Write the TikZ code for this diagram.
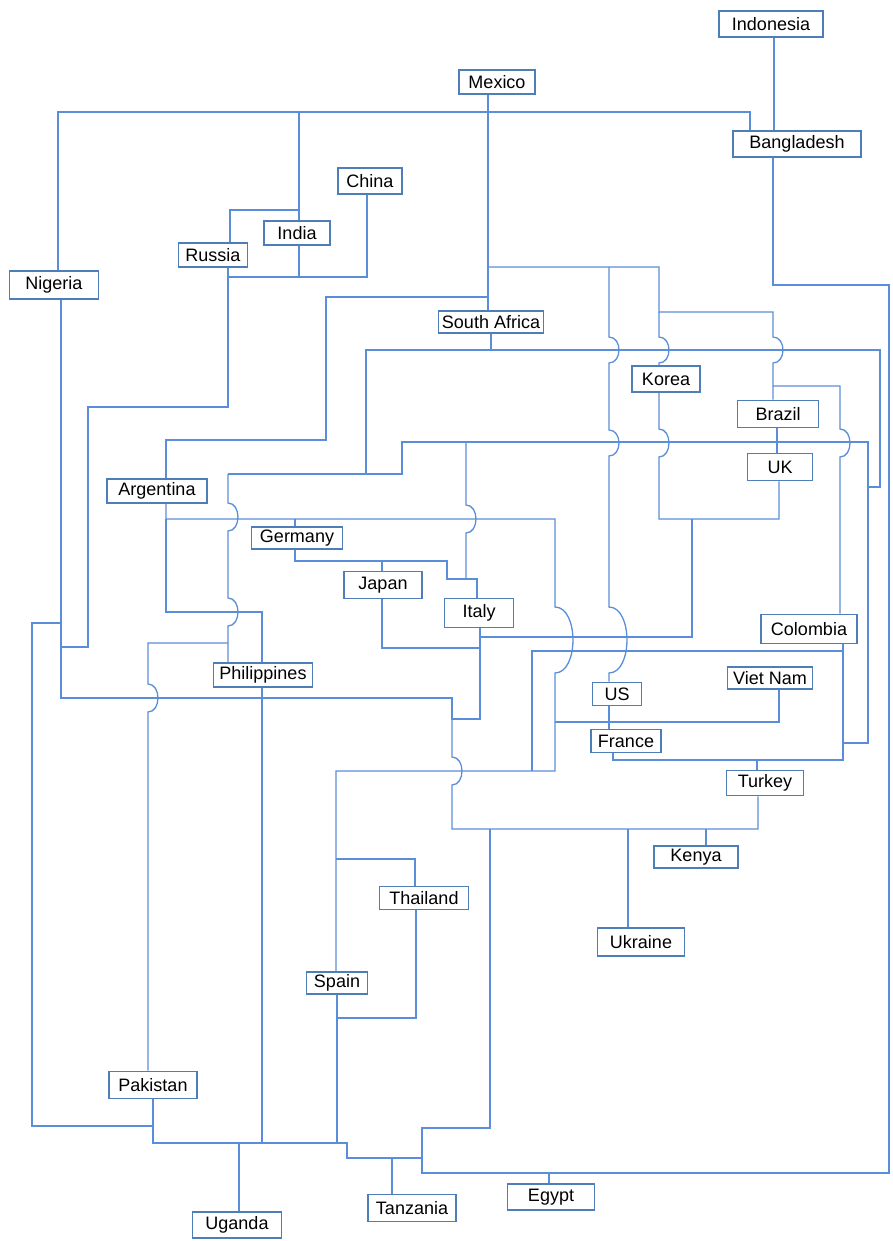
\documentclass[tikz,border=0pt]{standalone}
\usepackage{fontspec}
\setmainfont{Liberation Sans}
\definecolor{wireblue}{HTML}{5B8ED8}
\definecolor{boxblue}{HTML}{4F7DB8}
\tikzset{
  every picture/.style={line width=1.3pt},
  box/.style={draw=boxblue, fill=white, line width=1.6pt, inner sep=0pt, font=\fontsize{18}{20}\selectfont},
  wire/.style={draw=wireblue, line width=1.3pt},
}
% a vertical wire hopping over a horizontal one: x, y of crossing, bulge, half height
\newcommand{\hop}[4]{-- (#1,#2-#4) .. controls (#1+1.33*#3,#2-#4) and (#1+1.33*#3,#2+#4) .. (#1,#2+#4)}

\begin{document}
\begin{tikzpicture}[x=1pt, y=-1pt]
  \useasboundingbox (0,0) rectangle (892,1241);
  % countries
  \foreach \nm/\cx/\cy/\bw/\bh/\txt in {
      indonesia/771/24/104/26/Indonesia, mexico/497/82/76/24/Mexico,
      bangladesh/797/144/128/26/Bangladesh, china/370/181/64/26/China,
      india/297/233/66/24/India, russia/213/255/69/24/Russia,
      nigeria/54/285/89/28/Nigeria, southafrica/491/322/105/22/South Africa,
      korea/666/379/68/26/Korea, brazil/778/414/81/27/Brazil,
      uk/780/467/65/27/UK, argentina/157/491/100/24/Argentina,
      germany/297/538/91/22/Germany, japan/383/585/78/27/Japan,
      italy/479/613/69/29/Italy, philippines/263/675/99/24/Philippines,
      colombia/809/629/96/29/Colombia, us/617/694/49/23/US,
      vietnam/770/678/85/22/Viet Nam, france/626/741/70/23/France,
      turkey/765/783/77/25/Turkey, kenya/696/857/84/22/Kenya,
      thailand/424/898/89/23/Thailand, spain/337/983/61/22/Spain,
      ukraine/641/942/87/28/Ukraine, pakistan/153/1085/88/27/Pakistan,
      uganda/237/1225/89/26/Uganda, tanzania/412/1208/88/27/Tanzania,
      egypt/551/1197/87/26/Egypt}
    \node[box, minimum width=\bw, minimum height=\bh] (\nm) at (\cx,\cy) {\txt};
  % top of the chart
  \draw[wire] ([xshift=3]indonesia.south) -- ([xshift=-23]bangladesh.north);
  \draw[wire] ([xshift=4]nigeria.north) |- (750,112) -- ([xshift=-47]bangladesh.north);
  \draw[wire] (299,112) -- ([xshift=2]india.north);
  \draw[wire] ([xshift=17]russia.north) |- (299,210);
  \draw[wire] ([xshift=2]india.south) -- (299,277);
  \draw[wire] ([xshift=-3]china.south) |- (228,277);
  \draw[wire] ([xshift=15]russia.south) |- (88,407) |- (61,647);
  % Mexico trunk
  \draw[wire] ([xshift=-9]mexico.south) -- ([xshift=-3]southafrica.north);
  \draw[wire] (488,267) -- (659,267) -- (659,312) -- (773,312) \hop{773}{350}{10}{13} -- ([xshift=-5]brazil.north);
  \draw[wire] (659,312) \hop{659}{350}{10}{13} -- ([xshift=-7]korea.north);
  \draw[wire] (609,267) \hop{609}{350}{10}{13} \hop{609}{443}{10}{13} \hop{609}{640}{18}{33} -- ([xshift=-8]us.north);
  \draw[wire] ([xshift=-8]us.south) -- ([xshift=-17]france.north);
  \draw[wire] (773,386) -- (840,386) \hop{840}{443}{10}{14} -- ([xshift=31]colombia.north);
  \draw[wire] ([xshift=-1]brazil.south) -- ([xshift=-3]uk.north);
  \draw[wire] ([xshift=-7]korea.south) \hop{659}{443}{10}{14} -- (659,519) -| ([xshift=-1]uk.south);
  \draw[wire] (692,519) |- (480,637);
  % South Africa and Argentina
  \draw[wire] (488,297) -| (326,440) -| ([xshift=9]argentina.north);
  \draw[wire] (southafrica.south) -- (491,350);
  \draw[wire] (366,474) |- (880,350) |- (868,487);
  \draw[wire] (228,474) -| (402,442) -| (868,743) -- (843,743);
  \draw[wire] (228,474) \hop{228}{517}{10}{14} \hop{228}{612}{10}{14} -- ([xshift=-35]philippines.north);
  \draw[wire] (466,442) \hop{466}{519}{10}{14} -- (466,579);
  \draw[wire] ([xshift=9]argentina.south) |- (555,519) \hop{555}{640}{18}{33} -- (555,771) -| ([xshift=-1]spain.north);
  \draw[wire] (295,519) -- ([xshift=-2]germany.north);
  \draw[wire] (166,519) |- (262,612) -- ([xshift=-1]philippines.north);
  % Germany, Japan, Italy
  \draw[wire] ([xshift=-2]germany.south) |- (447,561) |- (477,579) -- ([xshift=-2]italy.north);
  \draw[wire] (382,561) -- ([xshift=-1]japan.north);
  \draw[wire] ([xshift=-1]japan.south) |- (480,648);
  % Nigeria and the middle
  \draw[wire] ([xshift=7]nigeria.south) |- (452,698) -- (452,719) -| ([xshift=1]italy.south);
  \draw[wire] (452,719) \hop{452}{771}{10}{14} -- (452,829) -| ([xshift=-7]turkey.south);
  \draw[wire] (628,829) -- ([xshift=-13]ukraine.north);
  \draw[wire] (706,829) -- ([xshift=10]kenya.north);
  \draw[wire] (61,623) -- (32,623) |- (153,1126);
  \draw[wire] (228,643) -- (148,643) \hop{148}{698}{10}{14} -- ([xshift=-5]pakistan.north);
  % right side
  \draw[wire] (532,771) |- (843,651);
  \draw[wire] ([xshift=34]colombia.south) |- (613,760) -- ([xshift=-13]france.south);
  \draw[wire] (757,760) -- ([xshift=-8]turkey.north);
  \draw[wire] ([xshift=9]vietnam.south) |- (555,722);
  % Spain and Thailand
  \draw[wire] (336,859) -| ([xshift=-9]thailand.north);
  \draw[wire] ([xshift=-8]thailand.south) |- (337,1018);
  \draw[wire] (spain.south) -- (337,1143);
  \draw[wire] ([xshift=-1]philippines.south) -- (262,1143);
  % bottom row
  \draw[wire] (pakistan.south) -- (153,1143) -- (347,1143) -- (347,1158) -- (422,1158);
  \draw[wire] (239,1143) -- ([xshift=2]uganda.north);
  \draw[wire] (392,1158) -- ([xshift=-20]tanzania.north);
  \draw[wire] (490,829) |- (422,1128) -- (422,1173) -| (889,285) -| ([xshift=-24]bangladesh.south);
  \draw[wire] (549,1173) -- ([xshift=-2]egypt.north);
\end{tikzpicture}
\end{document}
